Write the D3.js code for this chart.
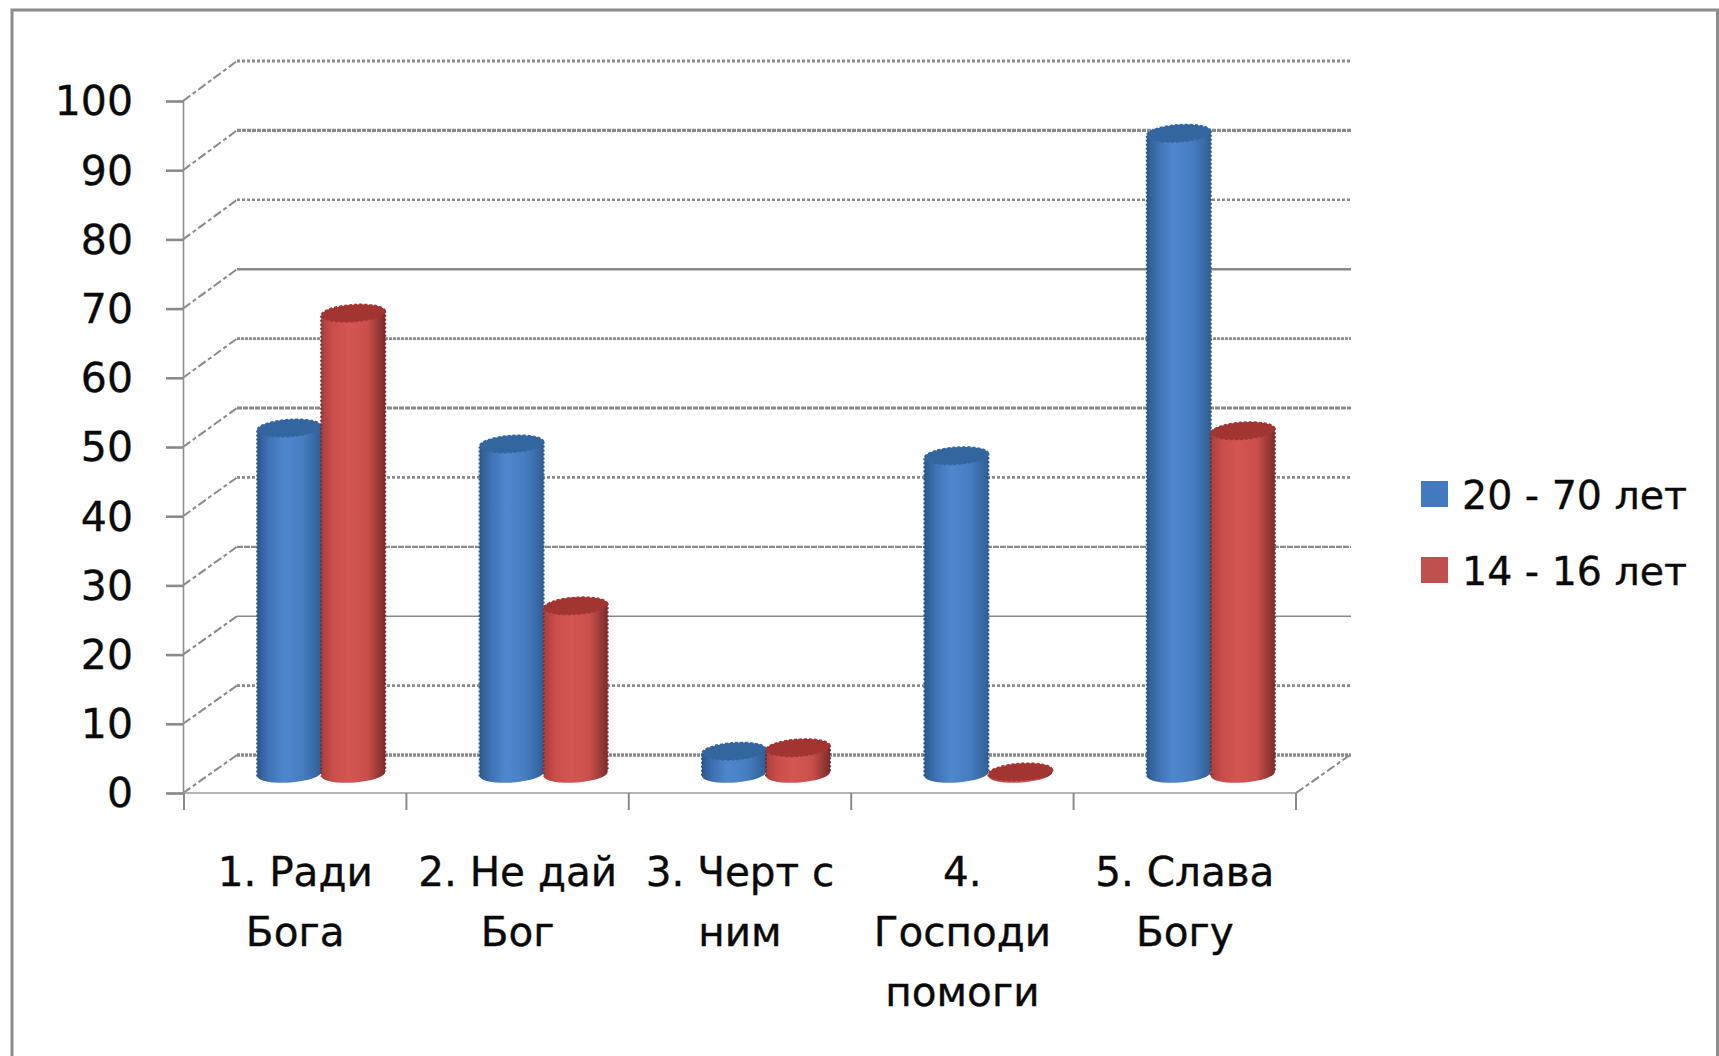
<!DOCTYPE html>
<html>
<head>
<meta charset="utf-8">
<script src="https://cdn.jsdelivr.net/npm/d3@7"></script>
<style>
  html, body { margin: 0; padding: 0; background: #fff; }
  text { font-family: "DejaVu Sans", sans-serif; fill: #0a0a0a; stroke: #0a0a0a; stroke-width: 0.35px; }
</style>
</head>
<body>
<svg id="chart" width="1719" height="1056"></svg>
<script>
const categories = ['1. Ради\nБога', '2. Не дай\nБог', '3. Черт с\nним', '4.\nГосподи\nпомоги', '5. Слава\nБогу'];
const seriesNames = ['20 - 70 лет', '14 - 16 лет'];
const olderValues = [50, 47.7, 3.3, 46, 92.6];
const teenValues = [66.6, 24.3, 3.8, 0.3, 49.6];
const yTicks = [0, 10, 20, 30, 40, 50, 60, 70, 80, 90, 100];

const area = { left: 184, right: 1296, top: 101, bottom: 793 };
const depth = { x: 54, y: 38 };
const colors = [
  { side: ['#2c5a8e', '#3f72b4', '#4f87cf', '#467cc0', '#2f5f96'], top: '#33659f', edge: '#2c5583', key: '#4279bf' },
  { side: ['#a83f3d', '#c94d4a', '#d45653', '#c94f4b', '#7d2c2a'], top: '#a23532', edge: '#7e2a28', key: '#c0504d' }
];

// gridline look varies a lot in the picture, dash and width per tick
const gridStyle = {
  0: ['3 1', 3.6], 10: ['3 2', 2.8], 20: [null, 1.6], 30: ['6 1', 2.3], 40: ['3 2', 2.8],
  50: ['5 1', 3], 60: ['3 1', 2.8], 70: [null, 2.4], 80: ['3 2', 2.6], 90: ['4 1', 3.2], 100: ['3 2', 2.8]
};

const svg = d3.select('#chart');

const x = d3.scaleBand().domain(categories).range([area.left, area.right]);
const xInner = d3.scaleBand().domain(seriesNames).range([0, 128]);
const y = d3.scaleLinear().domain([0, 100]).range([area.bottom, area.top]);
const yBack = d3.scaleLinear().domain([0, 100]).range([area.bottom - depth.y, 61]);

// frame
svg.append('path')
  .attr('d', 'M12,1056V10H1717.5V1056')
  .attr('fill', 'none')
  .attr('stroke', '#8c8c8c')
  .attr('stroke-width', 3);

// back wall gridlines and the diagonals on the left wall
const grid = svg.append('g').attr('stroke', '#8a8a8a').attr('fill', 'none');
yTicks.forEach(t => {
  const [dash, width] = gridStyle[t];
  grid.append('line')
    .attr('x1', area.left + depth.x - 1)
    .attr('x2', area.right + depth.x + 1)
    .attr('y1', yBack(t))
    .attr('y2', yBack(t))
    .attr('stroke-width', width)
    .attr('stroke-dasharray', dash);
  grid.append('line')
    .attr('x1', area.left - 1)
    .attr('x2', area.left + depth.x - 1)
    .attr('y1', y(t))
    .attr('y2', yBack(t))
    .attr('stroke-width', 2)
    .attr('stroke-dasharray', '9 3 4 3');
});
grid.append('line')
  .attr('x1', area.right)
  .attr('x2', area.right + depth.x)
  .attr('y1', area.bottom)
  .attr('y2', yBack(0))
  .attr('stroke-width', 2)
  .attr('stroke-dasharray', '9 3 4 3');

// y axis
const yAxis = svg.append('g')
  .attr('transform', `translate(${area.left - 1},0)`)
  .call(d3.axisLeft(y).tickValues(yTicks).tickSize(17).tickPadding(33));
yAxis.select('.domain').attr('stroke', '#8f8f8f').attr('stroke-width', 1.6);
yAxis.selectAll('.tick line').attr('stroke', '#8a8a8a').attr('stroke-width', 2.6);
yAxis.selectAll('.tick text')
  .style('font-family', '"DejaVu Sans", sans-serif')
  .style('font-size', '41px')
  .attr('dy', '0.34em');

// floor line and category ticks
svg.append('line')
  .attr('x1', area.left - 1).attr('x2', area.right)
  .attr('y1', area.bottom).attr('y2', area.bottom)
  .attr('stroke', '#9a9a9a').attr('stroke-width', 1.6);
const boundaries = categories.map(c => x(c)).concat([area.right]);
svg.append('g').selectAll('line')
  .data(boundaries)
  .join('line')
  .attr('x1', d => d).attr('x2', d => d)
  .attr('y1', area.bottom).attr('y2', area.bottom + 17)
  .attr('stroke', '#8a8a8a').attr('stroke-width', 2);

// category labels
const labels = svg.append('g').attr('text-anchor', 'middle').style('font-size', '40.5px');
categories.forEach(c => {
  c.split('\n').forEach((line, i) => {
    labels.append('text')
      .attr('x', x(c) + x.bandwidth() / 2)
      .attr('y', 886 + i * 60.2)
      .text(line);
  });
});

// gradients for the cylinders
const defs = svg.append('defs');
colors.forEach((c, i) => {
  const grad = defs.append('linearGradient').attr('id', `side${i}`);
  grad.selectAll('stop')
    .data(c.side)
    .join('stop')
    .attr('offset', (d, j) => [0, 0.18, 0.42, 0.72, 1][j])
    .attr('stop-color', d => d);
});

// cylinders, centre of the base sits halfway into the depth
const rx = xInner.bandwidth() / 2;
const ry = 8.5;
const tilt = 2.5;
const drawCylinder = (cat, name, value, color, idx) => {
  const cx = x(cat) + x.bandwidth() / 2 + 26 - 64 + xInner(name) + rx;
  const y0 = y(0) - depth.y / 2;
  const y1 = y(value) - depth.y / 2;
  const g = svg.append('g');
  g.append('path')
    .attr('d', `M${cx - rx},${y1 + tilt}L${cx - rx},${y0 + tilt}A${rx},${ry} -4 0 0 ${cx + rx},${y0 - tilt}L${cx + rx},${y1 - tilt}Z`)
    .attr('fill', `url(#side${idx})`);
  [[cx - rx, y1 + tilt, y0 + tilt], [cx + rx, y1 - tilt, y0 - tilt]].forEach(([ex, a, b]) => {
    g.append('line')
      .attr('x1', ex).attr('x2', ex)
      .attr('y1', a).attr('y2', b)
      .attr('stroke', color.edge)
      .attr('stroke-width', 2)
      .attr('stroke-dasharray', '2 2');
  });
  g.append('ellipse')
    .attr('cx', cx).attr('cy', y1)
    .attr('rx', rx).attr('ry', ry)
    .attr('transform', `rotate(-4 ${cx} ${y1})`)
    .attr('fill', color.top)
    .attr('stroke', color.top)
    .attr('stroke-width', 1.5)
    .attr('stroke-dasharray', '3 2');
};

categories.forEach((c, i) => {
  drawCylinder(c, seriesNames[0], olderValues[i], colors[0], 0);
  drawCylinder(c, seriesNames[1], teenValues[i], colors[1], 1);
});

// legend
const legend = svg.append('g');
seriesNames.forEach((name, i) => {
  legend.append('rect')
    .attr('x', 1421).attr('y', 481 + i * 76)
    .attr('width', 27).attr('height', 26)
    .attr('fill', colors[i].key);
  legend.append('text')
    .attr('x', 1462).attr('y', 509 + i * 76)
    .style('font-size', '39.5px')
    .text(name);
});
</script>
</body>
</html>
